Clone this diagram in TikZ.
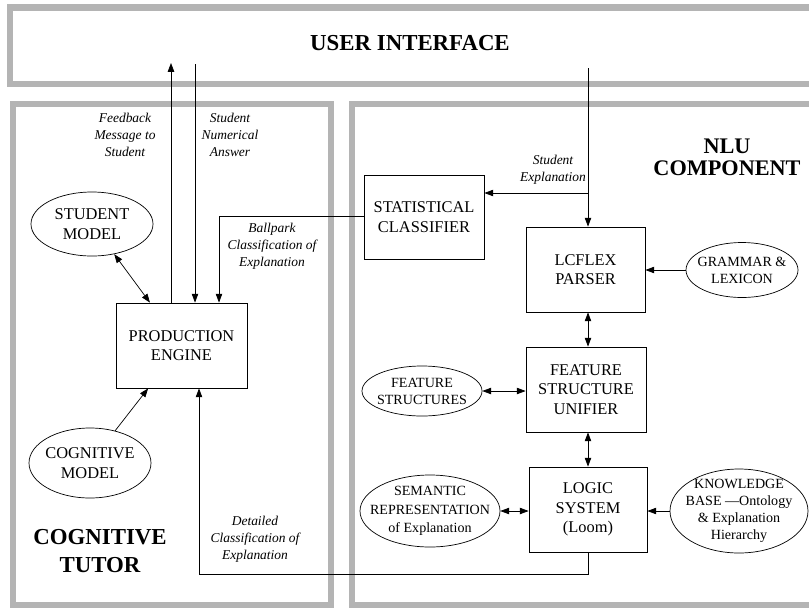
\documentclass[tikz,border=0pt]{standalone}
\usepackage{fontspec}
\setmainfont{Liberation Serif}
\usetikzlibrary{arrows.meta,shapes.geometric}
\definecolor{panelgray}{RGB}{180,180,180}

\begin{document}
\begin{tikzpicture}[x=0.03cm,y=-0.03cm,>={Triangle[length=7.5pt,width=5.5pt]},
    panel/.style={draw=panelgray,line width=5.2pt},
    unit/.style={draw,line width=0.7pt,align=center,inner sep=0pt,
                 font=\fontsize{14}{16.5}\selectfont},
    oval/.style={draw,ellipse,line width=0.6pt,inner sep=0pt},
    ovaltext/.style={align=center,font=\fontsize{12}{14.5}\selectfont},
    flow/.style={line width=0.6pt},
    note/.style={align=center,font=\itshape\fontsize{11.5}{14.5}\selectfont},
    heading/.style={align=center,font=\bfseries\fontsize{19.5}{24}\selectfont}]
    \fill[white] (0,0) rectangle (809,608);
    \clip (0,0) rectangle (809,608);

    \draw[panel] (10,7.5) rectangle (830,84);
    \draw[panel] (13,104) rectangle (331,605);
    \draw[panel] (352,104) rectangle (830,605);

    \node[heading] (ui) at (410,43) {USER INTERFACE};
    \node[heading] (tutor) at (100,551) {COGNITIVE\\TUTOR};
    \node[heading,font=\bfseries\fontsize{19}{19}\selectfont] (nlu) at (727,157) {NLU\\COMPONENT};

    \node[unit,minimum width=3.6cm,minimum height=2.52cm] (stat) at (424,217) {STATISTICAL\\CLASSIFIER};
    \node[unit,minimum width=3.57cm,minimum height=2.55cm] (parser) at (585.5,269.5) {LCFLEX\\PARSER};
    \node[unit,minimum width=3.6cm,minimum height=2.55cm] (unifier) at (586,389.5) {FEATURE\\STRUCTURE\\UNIFIER};
    \node[unit,minimum width=3.54cm,minimum height=2.55cm] (logic) at (588,509.5) {LOGIC\\SYSTEM\\(Loom)};
    \node[unit,minimum width=3.93cm,minimum height=2.55cm] (engine) at (181.5,345.5) {PRODUCTION\\ENGINE};

    \node[oval,minimum width=3.66cm,minimum height=1.92cm,
          label={[ovaltext,font=\fontsize{14}{17}\selectfont]center:STUDENT\\MODEL}] (student) at (92,224) {};
    \node[oval,minimum width=3.66cm,minimum height=2.1cm,
          label={[ovaltext,font=\fontsize{14}{17}\selectfont]center:COGNITIVE\\MODEL}] (cognitive) at (90,463) {};
    \node[oval,minimum width=3.36cm,minimum height=1.65cm,
          label={[ovaltext]center:GRAMMAR \&\\LEXICON}] (grammar) at (742,270) {};
    \node[oval,minimum width=3.6cm,minimum height=1.5cm,
          label={[ovaltext]center:FEATURE\\STRUCTURES}] (featstruct) at (422,391) {};
    \node[oval,minimum width=4.2cm,minimum height=2.16cm,
          label={[ovaltext,font=\fontsize{12}{16}\selectfont]center:SEMANTIC\\REPRESENTATION\\of Explanation}] (semrep) at (430,511) {};
    \node[oval,minimum width=4.14cm,minimum height=2.52cm,
          label={[ovaltext]center:KNOWLEDGE\\BASE —Ontology\\\& Explanation\\Hierarchy}] (kb) at (739,511) {};

    \coordinate (fbtop) at (171,63);
    \coordinate (numtop) at (195,64);
    \coordinate (bpdown) at (219,216);
    \coordinate (extop) at (588,68);
    \coordinate (exfork) at (588,193);
    \coordinate (detturn) at (588,574);
    \coordinate (detup) at (199,574);

    \draw[flow,->] (engine.north -| fbtop) -- (fbtop);
    \draw[flow,->] (numtop) -- (engine.north -| numtop);
    \draw[flow,->] (stat.west |- bpdown) -- (bpdown) -- (engine.north -| bpdown);
    \draw[flow,->] (extop) -- (parser.north -| extop);
    \draw[flow,->] (exfork) -- (stat.east |- exfork);
    \draw[flow,->] (grammar.west) -- (grammar.west -| parser.east);
    \draw[flow,<->] (parser.south -| extop) -- (unifier.north -| extop);
    \draw[flow,<->] (featstruct.east) -- (featstruct.east -| unifier.west);
    \draw[flow,<->] (unifier.south -| extop) -- (logic.north -| extop);
    \draw[flow,<->] (semrep.east) -- (semrep.east -| logic.west);
    \draw[flow,->] (kb.west) -- (kb.west -| logic.east);
    \draw[flow,->] (logic.south -| detturn) -- (detturn) -- (detup) -- (engine.south -| detup);
    \draw[flow,<->] (student) -- (engine);
    \draw[flow,->] (cognitive) -- (engine);

    \node[note] (fbnote) at (125,135) {Feedback\\Message to\\Student};
    \node[note] (numnote) at (230,135) {Student\\Numerical\\Answer};
    \node[note] (bpnote) at (272,246) {Ballpark\\Classification of\\Explanation};
    \node[note] (exnote) at (553,170) {Student\\Explanation};
    \node[note] (detnote) at (255,539) {Detailed\\Classification of\\Explanation};
\end{tikzpicture}
\end{document}
